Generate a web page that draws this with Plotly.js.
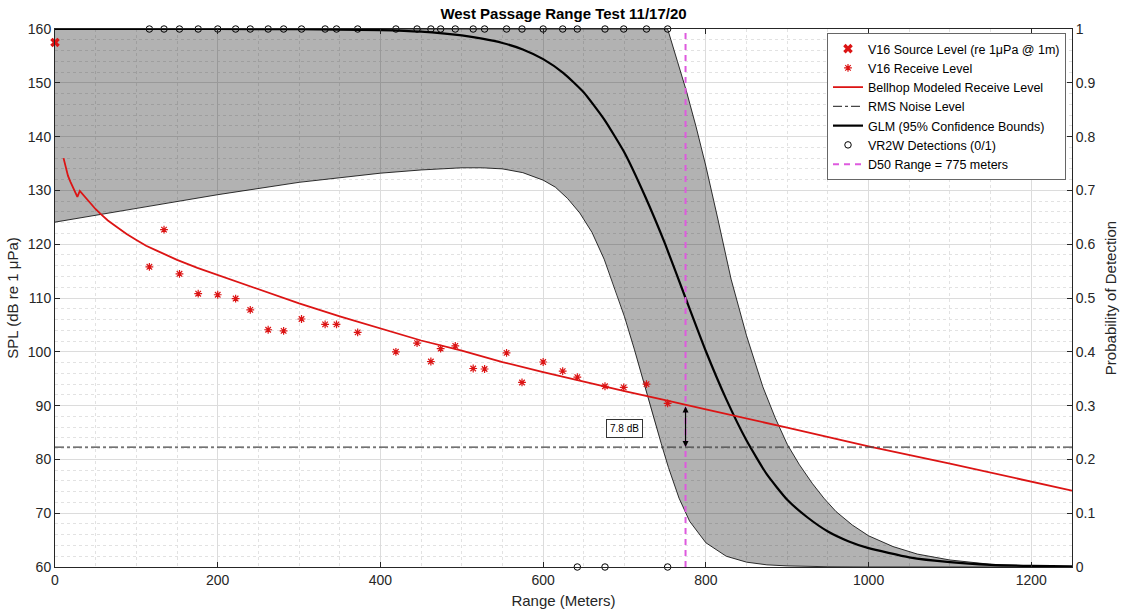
<!DOCTYPE html>
<html>
<head>
<meta charset="utf-8">
<script src="https://cdn.plot.ly/plotly-3.0.1.min.js"></script>
<style>html,body{margin:0;padding:0;background:#fff;}#chart{width:1126px;height:609px;}</style>
</head>
<body>
<div id="chart"></div>
<script>
// ---- data ----
const sourceRange = [0];
const sourceSPL = [157.5];

const receiveRange = [116, 134, 153, 176, 200, 222, 240, 262, 281, 303, 332, 346, 372, 419, 445, 462, 474, 492, 514, 528, 555, 574, 600, 624, 642, 676, 699, 727, 753];
const receiveSPL   = [115.8, 122.7, 114.5, 110.8, 110.6, 109.9, 107.8, 104.1, 103.9, 106.1, 105.1, 105.1, 103.6, 100.0, 101.6, 98.2, 100.6, 101.1, 96.9, 96.8, 99.8, 94.3, 98.1, 96.4, 95.3, 93.6, 93.4, 94.0, 90.4];

const bellhopRange = [10.5, 13, 16, 19, 22, 25, 27.5, 30.5, 36, 43, 50, 57, 65, 76, 88, 100, 112, 125, 137, 150, 175, 200, 250, 300, 350, 400, 450, 500, 550, 600, 650, 700, 750, 775, 800, 900, 1000, 1100, 1250];
const bellhopSPL   = [136.0, 134.3, 132.7, 131.6, 130.5, 129.5, 128.8, 129.9, 128.9, 127.6, 126.5, 125.5, 124.4, 123.2, 121.9, 120.8, 119.7, 118.8, 118.0, 117.1, 115.6, 114.3, 111.6, 109.0, 106.6, 104.3, 102.1, 100.2, 98.1, 96.2, 94.4, 92.7, 91.0, 90.1, 89.3, 85.9, 82.4, 79.2, 74.2];

const noiseRange = [0, 1250];
const noiseSPL = [82.3, 82.3];

const glmRange = [0, 100, 200, 300, 400, 450, 500, 525, 550, 575, 600, 625, 650, 675, 700, 725, 750, 775, 800, 825, 850, 875, 900, 925, 950, 975, 1000, 1050, 1100, 1150, 1200, 1250];
const glmProb  = [1.000, 1.000, 1.000, 0.9995, 0.998, 0.995, 0.988, 0.982, 0.974, 0.962, 0.944, 0.918, 0.882, 0.832, 0.770, 0.690, 0.600, 0.500, 0.401, 0.312, 0.235, 0.172, 0.125, 0.092, 0.066, 0.048, 0.035, 0.018, 0.009, 0.004, 0.002, 0.001];

const upperRange = [0, 753, 765, 776, 788, 800, 815, 831, 850, 870, 885, 900, 915, 931, 945, 960, 980, 1000, 1030, 1060, 1100, 1150, 1200, 1250];
const upperProb  = [1, 1, 0.94, 0.885, 0.818, 0.745, 0.645, 0.535, 0.43, 0.335, 0.278, 0.228, 0.19, 0.155, 0.128, 0.103, 0.078, 0.058, 0.038, 0.024, 0.013, 0.005, 0.002, 0];

const lowerRange = [0, 100, 200, 300, 400, 450, 500, 525, 550, 575, 600, 615, 630, 645, 660, 675, 690, 700, 712, 723, 735, 745, 754, 767, 780, 800, 825, 850, 875, 900, 950, 1000, 1250];
const lowerProb  = [0.641, 0.667, 0.692, 0.715, 0.732, 0.738, 0.742, 0.742, 0.740, 0.733, 0.719, 0.706, 0.685, 0.658, 0.622, 0.572, 0.51, 0.465, 0.405, 0.345, 0.28, 0.23, 0.185, 0.128, 0.085, 0.045, 0.02, 0.009, 0.004, 0.002, 0.0005, 0, 0];

const detRange = [116, 134, 153, 176, 200, 222, 240, 262, 281, 303, 332, 346, 372, 419, 445, 462, 474, 492, 514, 528, 555, 574, 600, 624, 642, 676, 699, 727, 753, 642, 676, 753];
const detHit   = [1, 1, 1, 1, 1, 1, 1, 1, 1, 1, 1, 1, 1, 1, 1, 1, 1, 1, 1, 1, 1, 1, 1, 1, 1, 1, 1, 1, 1, 0, 0, 0];

const d50Range = [775, 775];
const d50Prob = [0, 1];

const d50 = 775;
const splAtD50 = 90.1;
const noiseLevel = 82.3;
const marginLabel = '7.8 dB';
const labelPos = [700, 85.8];

// ---- traces ----
const FONT = 'Liberation Sans, Arial, sans-serif';
const RED = 'rgb(220,20,20)';

const bandX = upperRange.concat(lowerRange.slice().reverse());
const bandY = upperProb.concat(lowerProb.slice().reverse());

const traces = [
  {x: bandX, y: bandY, yaxis: 'y', type: 'scatter', mode: 'lines', fill: 'toself',
   fillcolor: 'rgba(0,0,0,0.30)', line: {width: 0}, showlegend: false, hoverinfo: 'skip'},
  {x: upperRange, y: upperProb, yaxis: 'y', type: 'scatter', mode: 'lines',
   line: {color: '#000', width: 0.8}, showlegend: false},
  {x: lowerRange, y: lowerProb, yaxis: 'y', type: 'scatter', mode: 'lines',
   line: {color: '#000', width: 0.8}, showlegend: false},
  {x: glmRange, y: glmProb, yaxis: 'y', type: 'scatter', mode: 'lines', name: 'GLM (95% Confidence Bounds)',
   line: {color: '#000', width: 2.2, shape: 'spline', smoothing: 0.5}, legendrank: 5},
  {x: detRange, y: detHit, yaxis: 'y', type: 'scatter', mode: 'markers', name: 'VR2W Detections (0/1)',
   marker: {symbol: 'circle-open', size: 6.5, color: '#000', line: {width: 1}}, cliponaxis: false, legendrank: 6},
  {x: d50Range, y: d50Prob, yaxis: 'y', type: 'scatter', mode: 'lines', name: 'D50 Range = 775 meters',
   line: {color: 'rgb(222,90,222)', width: 2, dash: '6px,5px'}, legendrank: 7},
  {x: sourceRange, y: sourceSPL, yaxis: 'y2', type: 'scatter', mode: 'markers', name: 'V16 Source Level (re 1μPa @ 1m)',
   marker: {symbol: 'x', size: 8.5, color: RED, line: {width: 0}}, cliponaxis: false, legendrank: 1},
  {x: receiveRange, y: receiveSPL, yaxis: 'y2', type: 'scatter', mode: 'markers', name: 'V16 Receive Level',
   marker: {symbol: 'asterisk-open', size: 6.5, color: RED, line: {width: 1.2, color: RED}}, legendrank: 2},
  {x: bellhopRange, y: bellhopSPL, yaxis: 'y2', type: 'scatter', mode: 'lines', name: 'Bellhop Modeled Receive Level',
   line: {color: RED, width: 1.8}, legendrank: 3},
  {x: noiseRange, y: noiseSPL, yaxis: 'y2', type: 'scatter', mode: 'lines', name: 'RMS Noise Level',
   line: {color: 'rgb(70,70,70)', width: 1.3, dash: 'dashdot'}, legendrank: 4}
];

const axisCommon = {
  showline: true, linecolor: '#262626', linewidth: 1, ticks: 'inside', ticklen: 5,
  tickcolor: '#262626', zeroline: false, tickfont: {family: FONT, size: 14, color: '#262626'}
};

const layout = {
  width: 1126, height: 609,
  margin: {l: 55, r: 54, t: 29, b: 42},
  paper_bgcolor: '#fff', plot_bgcolor: '#fff',
  font: {family: FONT, color: '#262626'},
  title: {text: '<b>West Passage Range Test 11/17/20</b>', font: {family: FONT, size: 15, color: '#000'},
          x: 0.5, xref: 'paper', xanchor: 'center', y: 1 - 14 / 609, yref: 'container', yanchor: 'middle'},
  xaxis: Object.assign({}, axisCommon, {
    range: [0, 1250], tick0: 0, dtick: 200, mirror: 'ticks',
    showgrid: true, gridcolor: '#dcdcdc', gridwidth: 1,
    minor: {dtick: 50, showgrid: true, gridcolor: '#e2e2e2', griddash: 'dot', ticks: ''},
    title: {text: 'Range (Meters)', font: {family: FONT, size: 15, color: '#262626'}, standoff: 8}
  }),
  yaxis: Object.assign({}, axisCommon, {
    range: [0, 1], tick0: 0, dtick: 0.1, side: 'right', showgrid: false,
    title: {text: 'Probability of Detection', font: {family: FONT, size: 15, color: '#262626'}, standoff: 11}
  }),
  yaxis2: Object.assign({}, axisCommon, {
    range: [60, 160], tick0: 60, dtick: 10, side: 'left', overlaying: 'y',
    showgrid: true, gridcolor: '#dcdcdc', gridwidth: 1,
    minor: {dtick: 2, showgrid: true, gridcolor: '#e2e2e2', griddash: 'dot', ticks: ''},
    title: {text: 'SPL (dB re 1 μPa)', font: {family: FONT, size: 15, color: '#262626'}, standoff: 5}
  }),
  legend: {
    x: (1066 - 55) / 1017, xanchor: 'right', y: 1 - 4 / 538, yanchor: 'top',
    bgcolor: '#fff', bordercolor: '#666', borderwidth: 1,
    font: {family: FONT, size: 12.5, color: '#000'}, tracegroupgap: 0, itemwidth: 30
  },
  annotations: [
    {x: d50, y: noiseLevel, xref: 'x', yref: 'y2', ax: d50, ay: splAtD50, axref: 'x', ayref: 'y2',
     text: '', showarrow: true, arrowhead: 2, startarrowhead: 2, arrowside: 'end+start',
     arrowsize: 1, arrowwidth: 1.2, arrowcolor: '#000'},
    {x: labelPos[0], y: labelPos[1], xref: 'x', yref: 'y2', text: marginLabel, showarrow: false,
     font: {family: FONT, size: 10, color: '#000'}, bgcolor: '#fff', bordercolor: '#333', borderwidth: 1, borderpad: 3}
  ],
  showlegend: true
};

Plotly.newPlot('chart', traces, layout, {displayModeBar: false, staticPlot: true});
</script>
</body>
</html>
